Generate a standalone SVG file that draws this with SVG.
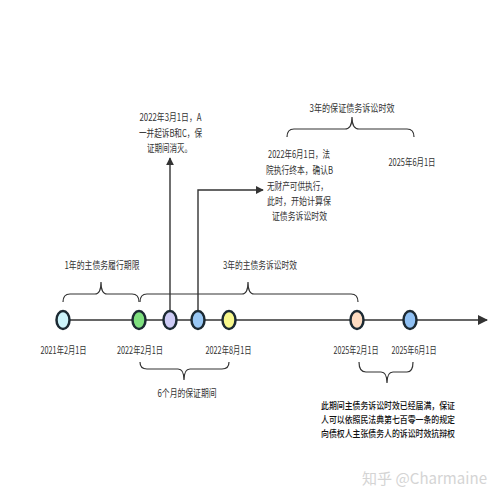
<svg xmlns="http://www.w3.org/2000/svg" width="500" height="500" viewBox="0 0 500 500">
<defs>
<style>
.t{font-family:"Noto Sans CJK SC","Noto Sans",sans-serif;font-size:10.5px;fill:#333;text-anchor:middle}
.s{font-family:"Noto Sans CJK SC","Noto Sans",sans-serif;font-size:8px;fill:#333;text-anchor:middle}
.b{font-family:"Noto Sans CJK SC","Noto Sans",sans-serif;font-size:9.5px;fill:#111;font-weight:500}
.ln{fill:none;stroke:#333;stroke-width:1.4}
.br{fill:none;stroke:#333;stroke-width:1.2}
.nd{stroke:#1c2a33;stroke-width:2.5}
.wm{font-family:"Noto Sans CJK SC","Noto Sans",sans-serif;font-size:15px;fill:#d4d4d4}
</style>
<marker id="ah" viewBox="0 0 10 10" refX="9" refY="5" markerWidth="8" markerHeight="8" markerUnits="userSpaceOnUse" orient="auto"><path d="M0,0 L10,5 L0,10 z" fill="#333"/></marker>
<marker id="ah2" viewBox="0 0 10 10" refX="9" refY="5" markerWidth="10" markerHeight="10" markerUnits="userSpaceOnUse" orient="auto"><path d="M0,0 L10,5 L0,10 z" fill="#333"/></marker>
</defs>
<rect width="500" height="500" fill="#fff"/>
<g id="connectors">
<path class="ln" d="M64,320 L487,320" stroke-width="2" marker-end="url(#ah2)"/>
<path class="ln" d="M170,311 L170,158" marker-end="url(#ah)"/>
<path class="ln" d="M198,311 L198,190 L263,190" marker-end="url(#ah)"/>
</g>
<g id="braces">
<path class="br" d="M63,302 Q63,294 70,294 L95,294 Q101,294 101,282 Q101,294 107,294 L132,294 Q139,294 139,302"/>
<path class="br" d="M140,302 Q140,294 147,294 L242,294 Q248,294 248,282 Q248,294 254,294 L351,294 Q358,294 358,302"/>
<path class="br" d="M287,137 Q287,129 294,129 L345,129 Q352,129 352,117 Q352,129 359,129 L407,129 Q414,129 414,137"/>
<path class="br" d="M140,362 Q140,369 147,369 L178,369 Q184,369 184,380 Q184,369 190,369 L222,369 Q229,369 229,362"/>
<path class="br" d="M359,362 Q359,372 366,372 L381,372 Q387,372 387,383 Q387,372 393,372 L407,372 Q413,372 413,362"/>
</g>
<g id="n1"><ellipse class="nd" cx="63" cy="320" rx="6.5" ry="9" fill="#ccf4fb"/><text class="t" x="63.5" y="354" textLength="46" lengthAdjust="spacingAndGlyphs">2021年2月1日</text></g>
<g id="n2"><ellipse class="nd" cx="139" cy="320" rx="6.5" ry="9" fill="#7fe07f"/><text class="t" x="140" y="354" textLength="46" lengthAdjust="spacingAndGlyphs">2022年2月1日</text></g>
<g id="n3"><ellipse class="nd" cx="170" cy="320" rx="6.5" ry="9" fill="#cdcbf5"/></g>
<g id="n4"><ellipse class="nd" cx="198" cy="320" rx="6.5" ry="9" fill="#99c8f5"/></g>
<g id="n5"><ellipse class="nd" cx="229" cy="320" rx="6.5" ry="9" fill="#f8f88c"/><text class="t" x="228.5" y="354" textLength="46" lengthAdjust="spacingAndGlyphs">2022年8月1日</text></g>
<g id="n6"><ellipse class="nd" cx="357" cy="320" rx="6.5" ry="9" fill="#fddcc2"/><text class="s" transform="translate(356,354) scale(1,1.3)" textLength="45" lengthAdjust="spacingAndGlyphs">2025年2月1日</text></g>
<g id="n7"><ellipse class="nd" cx="410" cy="320" rx="6.5" ry="9" fill="#8fc0f3"/><text class="s" transform="translate(414,354) scale(1,1.3)" textLength="45" lengthAdjust="spacingAndGlyphs">2025年6月1日</text></g>
<g id="labels">
<text class="t" x="102" y="269" textLength="75" lengthAdjust="spacingAndGlyphs">1年的主债务履行期限</text>
<text class="t" x="260" y="269" textLength="74" lengthAdjust="spacingAndGlyphs">3年的主债务诉讼时效</text>
<text class="t" x="187" y="397" textLength="59" lengthAdjust="spacingAndGlyphs">6个月的保证期间</text>
<text class="t" x="352" y="112" textLength="85" lengthAdjust="spacingAndGlyphs">3年的保证债务诉讼时效</text>
<text class="t" x="412" y="166" textLength="47" lengthAdjust="spacingAndGlyphs">2025年6月1日</text>
</g>
<g id="note1">
<text class="t" x="170.5" y="121" textLength="62" lengthAdjust="spacingAndGlyphs">2022年3月1日，A</text>
<text class="t" x="170.5" y="137" textLength="63" lengthAdjust="spacingAndGlyphs">一并起诉B和C，保</text>
<text class="t" x="169.5" y="152" textLength="45" lengthAdjust="spacingAndGlyphs">证期间消灭。</text>
</g>
<g id="note2">
<text class="t" x="299" y="158" textLength="62" lengthAdjust="spacingAndGlyphs">2022年6月1日，法</text>
<text class="t" x="299.5" y="174" textLength="67" lengthAdjust="spacingAndGlyphs">院执行终本，确认B</text>
<text class="t" x="297.5" y="190" textLength="61" lengthAdjust="spacingAndGlyphs">无财产可供执行，</text>
<text class="t" x="299" y="205" textLength="64" lengthAdjust="spacingAndGlyphs">此时，开始计算保</text>
<text class="t" x="299.5" y="220" textLength="55" lengthAdjust="spacingAndGlyphs">证债务诉讼时效</text>
</g>
<g id="note3">
<text class="b" x="321" y="409" textLength="134" lengthAdjust="spacingAndGlyphs">此期间主债务诉讼时效已经届满，保证</text>
<text class="b" x="321" y="423" textLength="134" lengthAdjust="spacingAndGlyphs">人可以依照民法典第七百零一条的规定</text>
<text class="b" x="321" y="437" textLength="134" lengthAdjust="spacingAndGlyphs">向债权人主张债务人的诉讼时效抗辩权</text>
</g>
<text class="wm" x="362" y="484" textLength="125" lengthAdjust="spacingAndGlyphs">知乎 @Charmaine</text>
</svg>
